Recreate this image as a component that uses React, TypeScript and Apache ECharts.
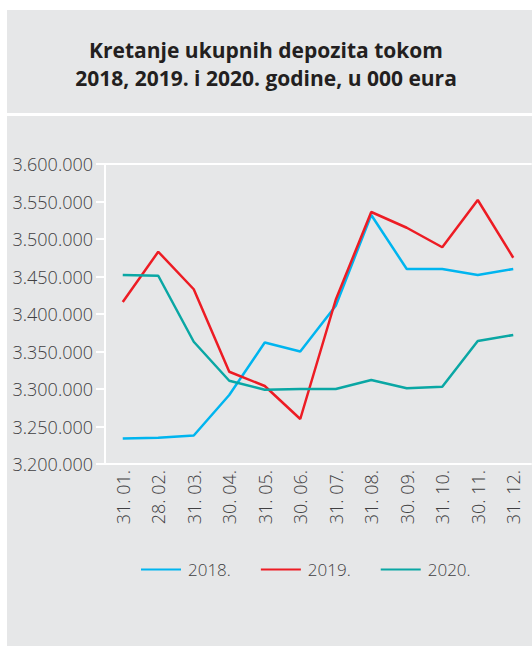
import React, { useEffect, useRef } from "react";
import * as echarts from "echarts";

const titleLines = ["Kretanje ukupnih depozita tokom", "2018, 2019. i 2020. godine, u 000 eura"];
const categories = ["31. 01.", "28. 02.", "31. 03.", "30. 04.", "31. 05.", "30. 06.", "31. 07.", "31. 08.", "30. 09.", "31. 10.", "30. 11.", "31. 12."];
const seriesNames = ["2018.", "2019.", "2020."];
const values2018 = [3234000, 3235000, 3238000, 3292000, 3362000, 3350000, 3411000, 3532000, 3460000, 3460000, 3452000, 3460000];
const values2019 = [3416000, 3483000, 3433000, 3323000, 3304000, 3260000, 3419000, 3536000, 3515000, 3489000, 3552000, 3475000];
const values2020 = [3452000, 3451000, 3363000, 3311000, 3299000, 3300000, 3300000, 3312000, 3301000, 3303000, 3364000, 3372000];
const colors = ["#00b5ef", "#ed1c24", "#0aa7a4"];

const fmt = (v: number) => String(v).replace(/\B(?=(\d{3})+(?!\d))/g, ".");

export default function App() {
  const ref = useRef<HTMLDivElement>(null);
  useEffect(() => {
    if (!ref.current) return;
    const chart = echarts.init(ref.current, null, { renderer: "svg" });
    const font = "'Open Sans', sans-serif";
    const labelColor = "#414042";
    chart.setOption({
      animation: false,
      backgroundColor: "#ffffff",
      graphic: [
        { type: "rect", z: -10, shape: { x: 7, y: 10, width: 525, height: 103 }, style: { fill: "#e6e7e8" } },
        { type: "rect", z: -10, shape: { x: 7, y: 116, width: 525, height: 530 }, style: { fill: "#e6e7e8" } },
      ],
      title: {
        text: titleLines.join("\n"),
        left: "center",
        top: 36,
        padding: 0,
        textStyle: { fontFamily: font, fontWeight: "bold", fontSize: 21, lineHeight: 28, color: "#231f20", align: "center" },
      },
      legend: {
        left: 141,
        top: 561,
        padding: 0,
        itemWidth: 40,
        itemHeight: 14,
        itemGap: 30,
        icon: "path://M0,6 L40,6 L40,8 L0,8 Z",
        textStyle: { fontFamily: font, fontWeight: 300, fontSize: 17, color: labelColor, padding: [0, 0, 0, 2] },
        data: seriesNames,
      },
      grid: { left: 105, top: 164, right: 1, bottom: 182, containLabel: false },
      xAxis: [
        {
          type: "category",
          data: categories,
          boundaryGap: true,
          axisLine: { show: true, lineStyle: { color: "#ffffff", width: 2 } },
          axisTick: { show: false },
          axisLabel: { rotate: 90, margin: 6, fontFamily: font, fontWeight: 300, fontSize: 18, color: labelColor, interval: 0 },
        },
        {
          type: "category",
          data: categories,
          position: "top",
          axisLine: { show: true, onZero: false, lineStyle: { color: "#ffffff", width: 2 } },
          axisTick: { show: false },
          axisLabel: { show: false },
        },
      ],
      yAxis: {
        type: "value",
        min: 3200000,
        max: 3600000,
        interval: 50000,
        axisLine: { show: true, lineStyle: { color: "#ffffff", width: 2 } },
        axisTick: { show: true, length: 9, lineStyle: { color: "#ffffff", width: 2 } },
        splitLine: { show: false },
        axisLabel: { margin: 12, fontFamily: font, fontWeight: 300, fontSize: 18, color: labelColor, formatter: (v: number) => fmt(v) },
      },
      series: [values2018, values2019, values2020].map((d, i) => ({
        name: seriesNames[i],
        type: "line",
        data: d,
        symbol: "none",
        showSymbol: false,
        color: colors[i],
        lineStyle: { color: colors[i], width: 2.5 },
      })),
    });
    return () => chart.dispose();
  }, []);
  return <div ref={ref} style={{ position: "fixed", left: 0, top: 0, width: 532, height: 646 }} />;
}
